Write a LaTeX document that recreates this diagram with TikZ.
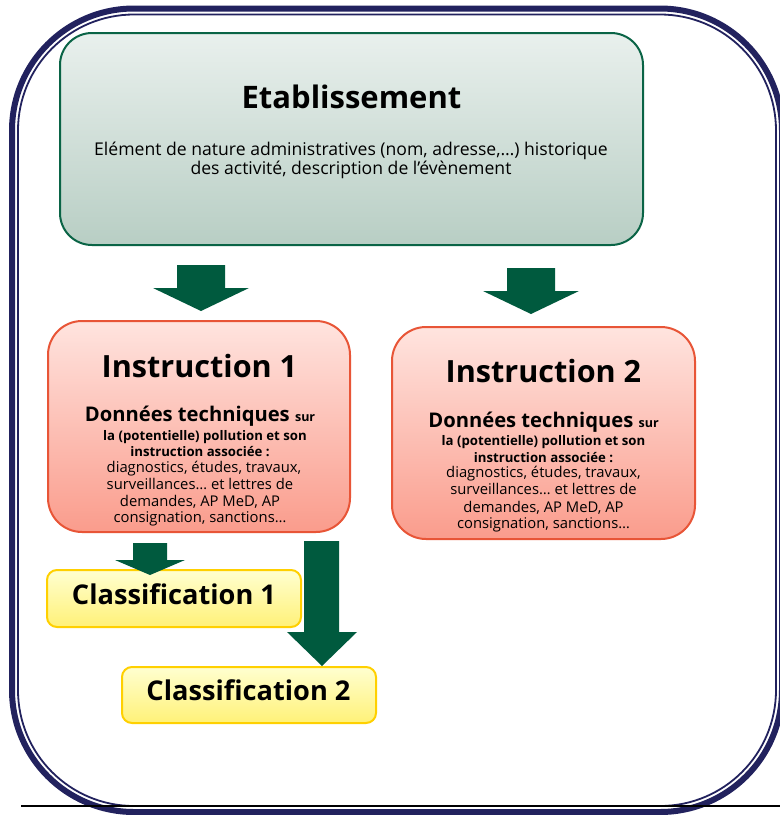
\documentclass[tikz,border=0pt]{standalone}
\usepackage{fontspec}
\setmainfont{Open Sans}
\definecolor{framenavy}{RGB}{34,34,94}
\definecolor{arrowgreen}{RGB}{0,90,62}
\definecolor{etabborder}{RGB}{10,100,70}
\definecolor{etabtop}{RGB}{233,240,237}
\definecolor{etabbot}{RGB}{184,206,196}
\definecolor{instborder}{RGB}{232,85,55}
\definecolor{insttop}{RGB}{255,228,223}
\definecolor{instbot}{RGB}{250,156,140}
\definecolor{classborder}{RGB}{255,208,0}
\definecolor{classtop}{RGB}{255,255,208}
\definecolor{classbot}{RGB}{255,241,120}
\newcommand{\fsz}[1]{\fontsize{#1pt}{#1pt}\selectfont}
\begin{document}
\begin{tikzpicture}[x=1pt,y=-1pt,
  box/.style={rectangle, inner sep=0pt, line width=2pt},
  etabbox/.style={box, draw=etabborder, top color=etabtop, bottom color=etabbot, rounded corners=32pt},
  instbox/.style={box, draw=instborder, top color=insttop, bottom color=instbot, rounded corners=34pt},
  classbox/.style={box, draw=classborder, top color=classtop, bottom color=classbot, rounded corners=10pt},
  txt/.style={inner sep=0pt, anchor=base, text=black},
  title/.style={txt, font=\bfseries\fsz{30.6}},
  ctitle/.style={txt, font=\bfseries\fsz{27.2}},
  desc/.style={txt, font=\fsz{17.6}},
  sub/.style={txt, font=\bfseries\fsz{20.2}},
  subb/.style={txt, font=\bfseries\fsz{13.2}},
  body/.style={txt, font=\fsz{14.8}},
  blockarrow/.style={fill=arrowgreen, draw=none}
]
\useasboundingbox (0,0) rectangle (780,815);
\fill[white] (0,0) rectangle (780,815);

% outer double frame
\draw[framenavy, line width=6pt, rounded corners=122pt] (12,8.5) rectangle (782,812);
\draw[framenavy, line width=1.8pt, rounded corners=116pt] (18,14.5) rectangle (776,806);
\draw[black, line width=1.5pt] (21,806) -- (780,806);

% boxes
\node[etabbox, minimum width=583pt, minimum height=212pt] (etab) at (351.5,139) {};
\node[instbox, minimum width=302pt, minimum height=211pt] (inst1) at (199,426.5) {};
\node[instbox, minimum width=303pt, minimum height=212pt] (inst2) at (543.5,433) {};
\node[classbox, minimum width=254pt, minimum height=57pt] (class1) at (174,598.5) {};
\node[classbox, minimum width=254pt, minimum height=56pt] (class2) at (249,695) {};

% Etablissement texts
\node[title, font=\bfseries\fsz{31}] (etabt) at (351.5,108) {Etablissement};
\node[desc] (etabd1) at (351,155) {Elément de nature administratives (nom, adresse,…) historique};
\node[desc] (etabd2) at (351,174) {des activité, description de l’évènement};

% Instruction 1 texts
\node[title] (i1t) at (199.5,377) {Instruction 1};
\node[sub] (i1s) at (200,421) {Données techniques {\fsz{12.5}sur}};
\node[subb] (i1a) at (205,440) {la (potentielle) pollution et son};
\node[subb] (i1b) at (200,456) {instruction associée :};
\node[body] (i1c) at (204,472) {diagnostics, études, travaux,};
\node[body] (i1d) at (200,489) {surveillances… et lettres de};
\node[body] (i1e) at (200,506) {demandes, AP MeD, AP};
\node[body] (i1f) at (200,522) {consignation, sanctions…};

% Instruction 2 texts
\node[title] (i2t) at (543.5,382) {Instruction 2};
\node[sub] (i2s) at (543.5,427) {Données techniques {\fsz{12.5}sur}};
\node[subb] (i2a) at (543.5,445) {la (potentielle) pollution et son};
\node[subb] (i2b) at (543.5,462) {instruction associée :};
\node[body] (i2c) at (543.5,477) {diagnostics, études, travaux,};
\node[body] (i2d) at (543.5,494) {surveillances… et lettres de};
\node[body] (i2e) at (543.5,512) {demandes, AP MeD, AP};
\node[body] (i2f) at (543.5,528) {consignation, sanctions…};

% Classification texts
\node[ctitle] (c1t) at (174,604) {Classification 1};
\node[ctitle] (c2t) at (248.5,700) {Classification 2};

% block arrows
\fill[blockarrow] (177,265) -- (225,265) -- (225,288) -- (249,288) -- (201,311) -- (153,288) -- (177,288) -- cycle;
\fill[blockarrow] (507,268) -- (555,268) -- (555,291) -- (579,291) -- (531,314) -- (483,291) -- (507,291) -- cycle;
\fill[blockarrow] (133,543) -- (167,543) -- (167,560) -- (185,560) -- (150,575) -- (115,560) -- (133,560) -- cycle;
\fill[blockarrow] (304,541) -- (339,541) -- (339,632) -- (357,632) -- (322,666) -- (287,632) -- (304,632) -- cycle;
\end{tikzpicture}
\end{document}
